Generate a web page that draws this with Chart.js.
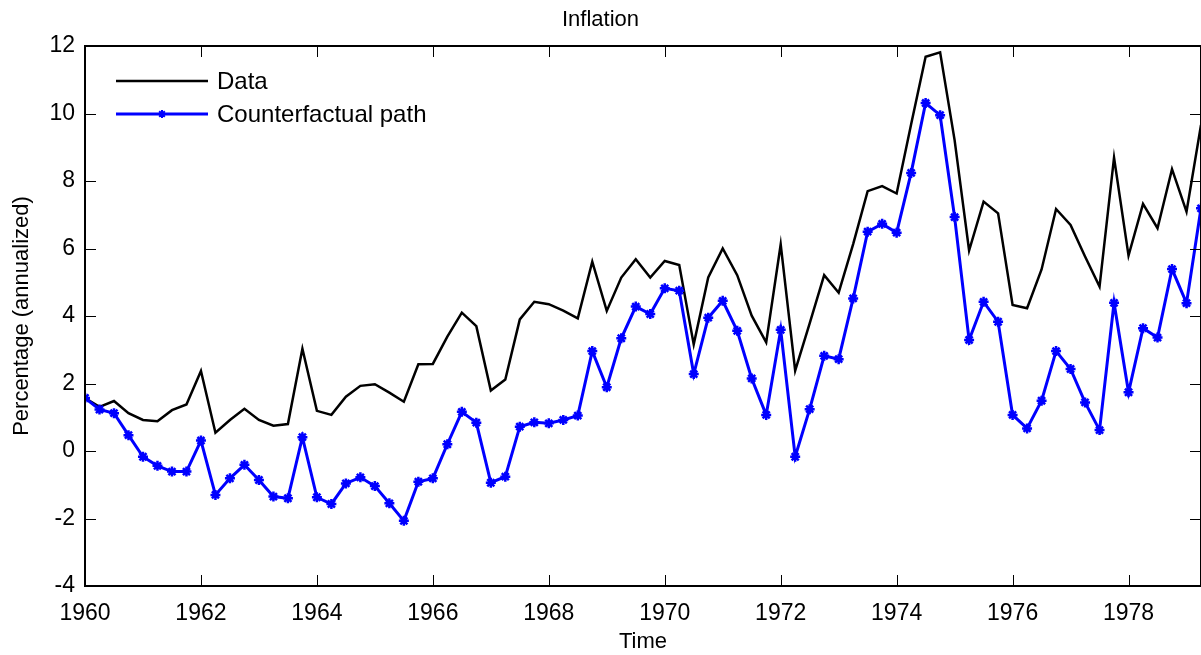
<!DOCTYPE html>
<html>
<head>
<meta charset="utf-8">
<script src="https://cdn.jsdelivr.net/npm/chart.js@4.4.1/dist/chart.umd.min.js"></script>
<style>
  html, body { margin: 0; padding: 0; background: #fff; }
  #wrap { width: 1201px; height: 655px; position: relative; }
</style>
</head>
<body>
<div id="wrap"><canvas id="inflChart"></canvas></div>
<script>
// Quarterly dates, 1960Q1 .. 1979Q2
const quarters = [
  1960.00, 1960.25, 1960.50, 1960.75,
  1961.00, 1961.25, 1961.50, 1961.75,
  1962.00, 1962.25, 1962.50, 1962.75,
  1963.00, 1963.25, 1963.50, 1963.75,
  1964.00, 1964.25, 1964.50, 1964.75,
  1965.00, 1965.25, 1965.50, 1965.75,
  1966.00, 1966.25, 1966.50, 1966.75,
  1967.00, 1967.25, 1967.50, 1967.75,
  1968.00, 1968.25, 1968.50, 1968.75,
  1969.00, 1969.25, 1969.50, 1969.75,
  1970.00, 1970.25, 1970.50, 1970.75,
  1971.00, 1971.25, 1971.50, 1971.75,
  1972.00, 1972.25, 1972.50, 1972.75,
  1973.00, 1973.25, 1973.50, 1973.75,
  1974.00, 1974.25, 1974.50, 1974.75,
  1975.00, 1975.25, 1975.50, 1975.75,
  1976.00, 1976.25, 1976.50, 1976.75,
  1977.00, 1977.25, 1977.50, 1977.75,
  1978.00, 1978.25, 1978.50, 1978.75,
  1979.00, 1979.25
];

// Actual inflation (black line)
const inflationData = [
  1.57, 1.31, 1.48, 1.12, 0.92, 0.88, 1.21, 1.38,
  2.37, 0.54, 0.92, 1.25, 0.92, 0.75, 0.80, 3.03,
  1.19, 1.07, 1.61, 1.93, 1.98, 1.73, 1.46, 2.57,
  2.58, 3.39, 4.10, 3.70, 1.79, 2.12, 3.90, 4.42,
  4.35, 4.16, 3.93, 5.61, 4.15, 5.14, 5.68, 5.14,
  5.63, 5.51, 3.16, 5.14, 6.00, 5.21, 4.01, 3.22,
  6.12, 2.38, 3.78, 5.21, 4.69, 6.13, 7.70, 7.85,
  7.63, 9.68, 11.68, 11.81, 9.21, 5.94, 7.39, 7.04,
  4.33, 4.23, 5.38, 7.17, 6.70, 5.76, 4.87, 8.69,
  5.79, 7.32, 6.60, 8.35, 7.09, 9.66
];

// Counterfactual path (blue line with markers)
const counterfactual = [
  1.57, 1.23, 1.12, 0.47, -0.17, -0.44, -0.61, -0.61,
  0.31, -1.30, -0.81, -0.41, -0.86, -1.35, -1.40, 0.41,
  -1.37, -1.57, -0.96, -0.78, -1.04, -1.55, -2.07, -0.91,
  -0.81, 0.20, 1.16, 0.84, -0.94, -0.76, 0.72, 0.85,
  0.82, 0.92, 1.05, 2.96, 1.89, 3.34, 4.28, 4.06,
  4.82, 4.75, 2.28, 3.95, 4.45, 3.56, 2.15, 1.07,
  3.59, -0.17, 1.24, 2.82, 2.72, 4.52, 6.50, 6.73,
  6.47, 8.24, 10.31, 9.95, 6.93, 3.29, 4.42, 3.83,
  1.07, 0.67, 1.49, 2.96, 2.43, 1.44, 0.62, 4.39,
  1.74, 3.64, 3.36, 5.39, 4.38, 7.19
];

const xTicks = [1960, 1962, 1964, 1966, 1968, 1970, 1972, 1974, 1976, 1978];
const yTicks = [-4, -2, 0, 2, 4, 6, 8, 10, 12];

const FONT = "'Liberation Sans', Arial, Helvetica, sans-serif";
const tickLen = 11;

// MATLAB-like box with inward ticks + legend in the upper left
const matlabAxes = {
  id: 'matlabAxes',
  afterDatasetsDraw(chart) {
    const { ctx, chartArea: a, scales: { x, y } } = chart;
    ctx.save();
    ctx.strokeStyle = '#000';
    ctx.lineWidth = 1;
    ctx.beginPath();
    xTicks.forEach(v => {
      const px = Math.round(x.getPixelForValue(v)) + 0.5;
      ctx.moveTo(px, a.bottom); ctx.lineTo(px, a.bottom - tickLen);
      ctx.moveTo(px, a.top); ctx.lineTo(px, a.top + tickLen);
    });
    yTicks.forEach(v => {
      const py = Math.round(y.getPixelForValue(v)) + 0.5;
      ctx.moveTo(a.left, py); ctx.lineTo(a.left + tickLen, py);
      ctx.moveTo(a.right, py); ctx.lineTo(a.right - tickLen, py);
    });
    ctx.stroke();
    ctx.lineWidth = 2;
    ctx.strokeRect(a.left, a.top, a.right - a.left, a.bottom - a.top);

    // legend
    const items = chart.data.datasets.slice().reverse();
    const lx0 = a.left + 31, lx1 = a.left + 123, tx = a.left + 132;
    let ly = a.top + 35;
    ctx.font = '24px ' + FONT;
    ctx.textBaseline = 'middle';
    ctx.textAlign = 'left';
    items.forEach(ds => {
      ctx.strokeStyle = ds.borderColor;
      ctx.fillStyle = ds.borderColor;
      ctx.lineWidth = ds.borderWidth;
      ctx.beginPath();
      ctx.moveTo(lx0, ly); ctx.lineTo(lx1, ly);
      ctx.stroke();
      if (ds.pointRadius > 0) {
        ctx.lineWidth = 2;
        Chart.helpers.drawPoint(ctx, {
          pointStyle: ds.pointStyle, radius: 4,
          borderWidth: 2, rotation: 0
        }, (lx0 + lx1) / 2, ly);
      }
      ctx.fillStyle = '#000';
      ctx.fillText(ds.label, tx, ly + 1);
      ly += 33;
    });
    ctx.restore();
  }
};

const ctx = document.getElementById('inflChart').getContext('2d');
const inflChart = new Chart(ctx, {
  type: 'line',
  data: {
    datasets: [{
      label: 'Counterfactual path',
      data: quarters.map((q, i) => ({ x: q, y: counterfactual[i] })),
      borderColor: '#0000ff',
      backgroundColor: '#0000ff',
      borderWidth: 3,
      pointStyle: 'star',
      pointRadius: 5,
      pointBorderWidth: 2.5,
      pointBorderColor: '#0000ff',
      fill: false,
      tension: 0
    }, {
      label: 'Data',
      data: quarters.map((q, i) => ({ x: q, y: inflationData[i] })),
      borderColor: '#000000',
      borderWidth: 2.5,
      pointRadius: 0,
      fill: false,
      tension: 0
    }]
  },
  options: {
    responsive: true,
    maintainAspectRatio: false,
    animation: false,
    events: [],
    layout: { autoPadding: false, padding: { left: 0, right: 0, top: 0, bottom: 0 } },
    plugins: {
      legend: { display: false },
      tooltip: { enabled: false },
      title: {
        display: true,
        text: 'Inflation',
        color: '#000',
        font: { family: FONT, size: 22, weight: 'normal' },
        padding: { top: 7, bottom: 12.6 }
      }
    },
    scales: {
      x: {
        type: 'linear',
        min: 1960,
        max: 1979.25,
        afterBuildTicks: s => { s.ticks = xTicks.map(v => ({ value: v })); },
        afterFit: s => { s.height = 69; s.paddingLeft = 0; s.paddingRight = 0; },
        grid: { display: false, drawTicks: false },
        border: { display: false },
        ticks: {
          color: '#000',
          padding: 14,
          maxRotation: 0,
          autoSkip: false,
          font: { family: FONT, size: 23 },
          callback: v => String(v)
        },
        title: {
          display: true,
          text: 'Time',
          color: '#000',
          font: { family: FONT, size: 22 },
          padding: { top: 0, bottom: 0 }
        }
      },
      y: {
        min: -4,
        max: 12,
        afterBuildTicks: s => { s.ticks = yTicks.map(v => ({ value: v })); },
        afterFit: s => { s.width = 85; },
        grid: { display: false, drawTicks: false },
        border: { display: false },
        ticks: {
          color: '#000',
          padding: 10,
          font: { family: FONT, size: 23 }
        },
        title: {
          display: true,
          text: 'Percentage (annualized)',
          color: '#000',
          font: { family: FONT, size: 22 },
          padding: { top: 9, bottom: 0 }
        }
      }
    }
  },
  plugins: [matlabAxes]
});
</script>
</body>
</html>
